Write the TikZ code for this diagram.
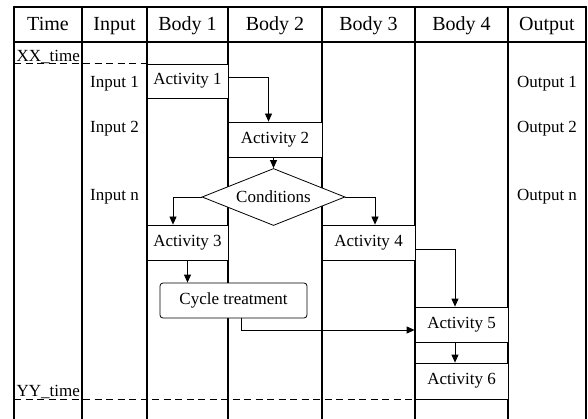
\documentclass[tikz,border=0pt]{standalone}
\usepackage{fontspec}
\setmainfont{Liberation Serif}
\usetikzlibrary{shapes}
\usetikzlibrary{positioning}
\usetikzlibrary{arrows.meta}
\tikzset{
    lane/.style = {-,line width=1.3pt,black},
    timeline/.style = {-,line width=1pt,black,dash pattern=on 7pt off 4.5pt}, % time marks
    headnode/.style = {anchor=base,inner sep=0pt,font=\fontsize{20}{24}\selectfont},
    lblnode/.style = {anchor=base,inner sep=0pt},
    timenode/.style = {anchor=base west,inner sep=0pt},
    actnode/.style = {rectangle, line width=0.8pt, draw=black, fill=white, inner sep=0pt, minimum height=35pt},
    cycnode/.style = {rectangle, rounded corners=3pt, line width=0.8pt, draw=black, fill=white, inner sep=0pt, minimum width=147pt, minimum height=35pt},
    condnode/.style = {diamond, aspect=2.5, line width=0.8pt, draw=black, fill=white, inner sep=0pt, minimum width=143pt, minimum height=57pt},
    arr/.style = {-{Triangle[width=7pt,length=8pt]},line width=0.8pt,black}
}

\begin{document}
\begin{tikzpicture}[x=1pt,y=-1pt,font=\fontsize{17}{20}\selectfont]
  \useasboundingbox (0,0) rectangle (588,419);

  % lanes
  \draw[lane] (14,419) -- (14,7) -- (586,7) -- (586,419);
  \draw[lane] (14,42) -- (586,42);
  \foreach \x in {82,147,228,322,415,508}
    \draw[lane] (\x,7) -- (\x,419);

  % header
  \node[headnode] (hTime) at (48,31) {Time};
  \node[headnode] (hInput) at (114.5,31) {Input};
  \node[headnode] (hBody1) at (187.5,31) {Body 1};
  \node[headnode] (hBody2) at (275,31) {Body 2};
  \node[headnode] (hBody3) at (368.5,31) {Body 3};
  \node[headnode] (hBody4) at (461.5,31) {Body 4};
  \node[headnode] (hOutput) at (547,31) {Output};

  % time marks
  \draw[timeline] (14,64) -- (147,64);
  \draw[timeline] (14,399) -- (415,399);
  \node[timenode] (xxtime) at (16.5,61.5) {XX\_time};
  \node[timenode] (yytime) at (16.5,396.5) {YY\_time};

  % inputs and outputs
  \node[lblnode] (in1) at (114.5,88) {Input 1};
  \node[lblnode] (in2) at (114.5,133) {Input 2};
  \node[lblnode] (inn) at (114.5,201) {Input n};
  \node[lblnode] (out1) at (547,88) {Output 1};
  \node[lblnode] (out2) at (547,133) {Output 2};
  \node[lblnode] (outn) at (547,201) {Output n};

  % activities
  \node[actnode,minimum width=81pt,minimum height=34pt] (act1) at (187.5,81) {Activity 1};
  \node[actnode,minimum width=94pt] (act2) at (275,139.5) {Activity 2};
  \node[condnode] (cond) at (273.5,197) {Conditions};
  \node[actnode,minimum width=81pt] (act3) at (187.5,242.5) {Activity 3};
  \node[actnode,minimum width=93pt] (act4) at (368.5,242.5) {Activity 4};
  \node[cycnode] (cyc) at (233.5,300.5) {Cycle treatment};
  \node[actnode,minimum width=93pt] (act5) at (461.5,324.5) {Activity 5};
  \node[actnode,minimum width=93pt,minimum height=36pt] (act6) at (461.5,381) {Activity 6};

  % flow
  \draw[arr] ([yshift=4pt]act1.east) -| ([xshift=-6.5pt]act2.north);
  \draw[arr] (cond.north |- act2.south) -- (cond.north);
  \draw[arr] (cond.west) -| ([xshift=-14.5pt]act3.north);
  \draw[arr] (cond.east) -| ([xshift=6.5pt]act4.north);
  \draw[arr] (act3.south) -- (act3.south |- cyc.north);
  \draw[arr] ([xshift=7.5pt]cyc.south) |- ([yshift=-5.5pt]act5.west);
  \draw[arr] ([yshift=-6.5pt]act4.east) -| ([xshift=-6.5pt]act5.north);
  \draw[arr] ([xshift=-6.5pt]act5.south) -- ([xshift=-6.5pt]act6.north);
\end{tikzpicture}
\end{document}
